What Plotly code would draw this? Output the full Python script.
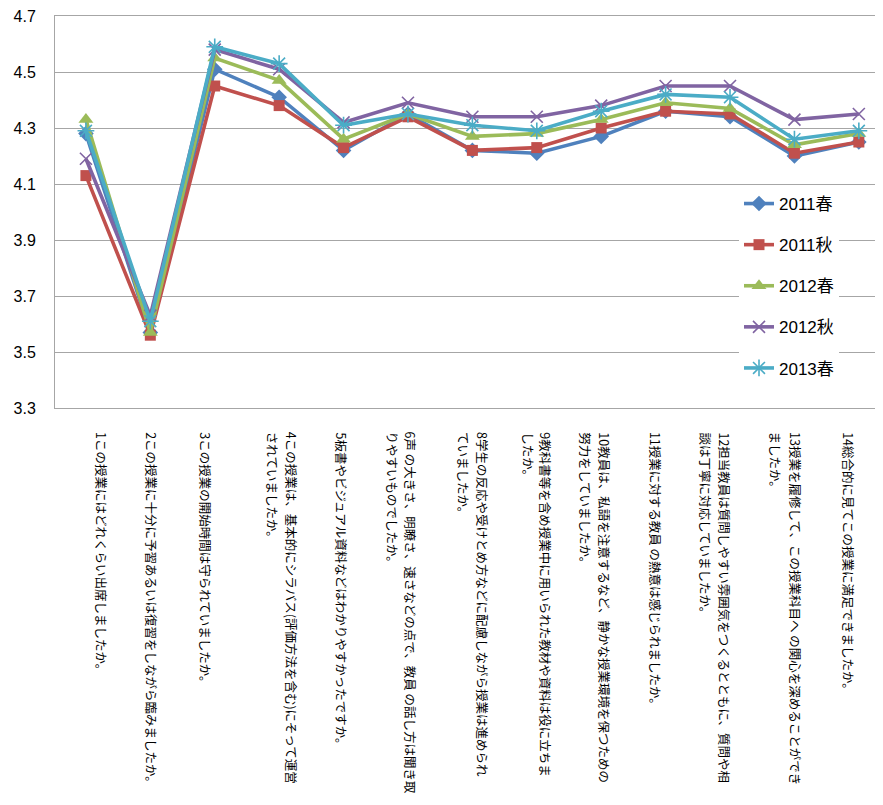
import plotly.graph_objects as go

# ---------------- data ----------------
label_columns = [
    ["1この授業にはどれくらい出席しましたか。"],
    ["2この授業に十分に予習あるいは復習をしながら臨みましたか。"],
    ["3この授業の開始時間は守られていましたか。"],
    ["4この授業は、基本的にシラバス(評価方法を含む)にそって運営", "されていましたか。"],
    ["5板書やビジュアル資料などはわかりやすかったですか。"],
    ["6声 の大きさ、明瞭さ、速さなどの点で、教員 の話し方は聞き取", "りやすいものでしたか。"],
    ["8学生の反応や受けとめ方などに配慮しながら授業は進められ", "ていましたか。"],
    ["9教科書等を含め授業中に用いられた教材や資料は役に立ちま", "したか。"],
    ["10教員は、私語を注意するなど、静かな授業環境を保つための", "努力をしていましたか。"],
    ["11授業に対する教員 の熱意は感じられましたか。"],
    ["12担当教員は質問しやすい雰囲気をつくるとともに、質問や相", "談は丁寧に対応していましたか。"],
    ["13授業を履修して、この授業科目へ の関心を深めることができ", "ましたか。"],
    ["14総合的に見てこの授業に満足できましたか。"],
]
categories = ["".join(cols) for cols in label_columns]

series_names = ["2011春", "2011秋", "2012春", "2012秋", "2013春"]
v2011_spring = [4.28, 3.57, 4.51, 4.41, 4.22, 4.35, 4.22, 4.21, 4.27, 4.36, 4.34, 4.20, 4.25]
v2011_autumn = [4.13, 3.56, 4.45, 4.38, 4.23, 4.34, 4.22, 4.23, 4.30, 4.36, 4.35, 4.21, 4.25]
v2012_spring = [4.33, 3.57, 4.55, 4.47, 4.26, 4.35, 4.27, 4.28, 4.33, 4.39, 4.37, 4.24, 4.28]
v2012_autumn = [4.19, 3.63, 4.58, 4.51, 4.32, 4.39, 4.34, 4.34, 4.38, 4.45, 4.45, 4.33, 4.35]
v2013_spring = [4.29, 3.61, 4.59, 4.53, 4.31, 4.35, 4.31, 4.29, 4.36, 4.42, 4.41, 4.26, 4.29]
series_values = [v2011_spring, v2011_autumn, v2012_spring, v2012_autumn, v2013_spring]

y_ticks = [3.3, 3.5, 3.7, 3.9, 4.1, 4.3, 4.5, 4.7]

# ---------------- styles / layout ----------------
colors = ["#4F81BD", "#C0504D", "#9BBB59", "#8064A2", "#4BACC6"]
symbols = ["diamond", "square", "triangle-up", "x-thin-open", "asterisk-open"]
sizes = [12, 11, 13, 12, 14]

PAGE_OFF = 8                      # browser body margin
W, H = 883 - PAGE_OFF, 805 - PAGE_OFF
PLOT_L, PLOT_T, PLOT_B = 55, 16, 408   # plot box in window pixels
ML = PLOT_L - PAGE_OFF
MT = PLOT_T - PAGE_OFF
MR = 0
plot_w = W - ML - MR
plot_h = PLOT_B - PLOT_T
MB = H - MT - plot_h

# pixel offsets of each label column from its category centre
col_offsets = [[16], [1], [-9], [13, -6], [-2], [3, -15], [10, -9], [9, -8],
               [3, -16], [-10], [-6, -25], [1, -18], [-10]]
LABEL_TOP = 431
LABEL_FONT = 12.5


def px_x(p):
    return (p - PLOT_L) / plot_w


def px_y(p):
    return (PLOT_B - p) / plot_h


fig = go.Figure()
for name, vals, c, s, sz in zip(series_names, series_values, colors, symbols, sizes):
    fig.add_trace(go.Scatter(
        x=categories, y=vals, name=name, mode="lines+markers",
        line=dict(color=c, width=3.6),
        marker=dict(symbol=s, size=sz, color=c,
                    line=dict(color=c, width=1.6 if "open" in s else 0)),
        legendgroup=name,
    ))

# vertical category labels: one rotated annotation per text column
annotations = []
for i, cols in enumerate(label_columns):
    for cidx, col in enumerate(cols):
        annotations.append(dict(
            text=col, xref="x", yref="paper", x=i, y=0,
            xshift=col_offsets[i][cidx], yshift=-(LABEL_TOP - PLOT_B),
            showarrow=False, xanchor="center", yanchor="top",
            textangle=90, borderpad=0,
            font=dict(family="Noto Sans CJK JP", size=LABEL_FONT, color="#000000"),
        ))

fig.update_layout(
    width=W, height=H, autosize=False,
    margin=dict(l=ML, r=MR, t=MT, b=MB, pad=0),
    plot_bgcolor="white", paper_bgcolor="white",
    annotations=annotations,
    shapes=[dict(type="rect", xref="paper", yref="paper",
                 x0=px_x(718), x1=px_x(860), y0=px_y(395), y1=px_y(184),
                 fillcolor="white", line=dict(width=0), layer="between")],
    legend=dict(x=px_x(739), y=px_y(186), xanchor="left", yanchor="top",
                bgcolor="white", borderwidth=0,
                font=dict(family="Liberation Sans, Noto Sans CJK JP", size=17, color="#000000"),
                tracegroupgap=16, itemwidth=30),
    xaxis=dict(type="category", range=[-0.48, 12.375], showticklabels=False,
               showgrid=False, zeroline=False, showline=True, mirror=True,
               linecolor="#a6a6a6", linewidth=1, ticks=""),
    yaxis=dict(range=[3.3, 4.7], tickmode="array", tickvals=y_ticks,
               ticktext=[f"{t:.1f}" for t in y_ticks],
               showgrid=True, gridcolor="#a6a6a6", gridwidth=1,
               showline=True, linecolor="#a6a6a6", linewidth=1,
               zeroline=False, ticks="", ticklabelstandoff=15,
               ticklabeloverflow="allow",
               tickfont=dict(family="Liberation Sans", size=16, color="#000000")),
    showlegend=True,
)

fig.write_html("out.html")
